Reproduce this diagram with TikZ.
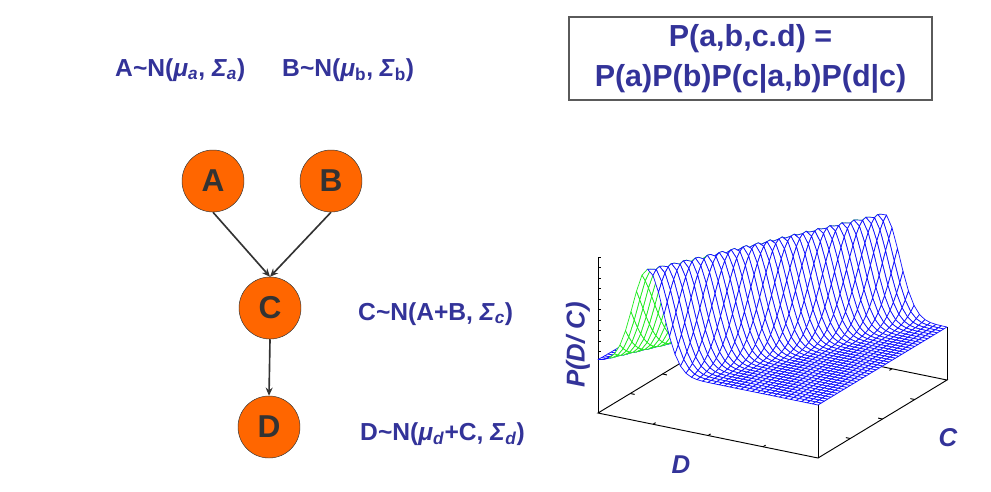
\documentclass[tikz,border=0pt]{standalone}
\usepackage{fontspec}
\setmainfont{Liberation Sans}
\usetikzlibrary{arrows.meta,calc}
\definecolor{nodeorange}{RGB}{255,102,0}
\definecolor{darktext}{RGB}{51,51,51}
\definecolor{eqblue}{RGB}{51,51,153}
\definecolor{boxgray}{RGB}{90,90,90}
\definecolor{meshblue}{RGB}{15,15,255}
\definecolor{meshgreen}{RGB}{30,235,30}
\pgfmathdeclarefunction{pdc}{2}{\pgfmathparse{#1-0.227-0.486*#2}\let\pdcd\pgfmathresult\pgfmathparse{exp(max(-11,-(\pdcd)*(\pdcd)/0.0098))}}
\tikzset{
  varnode/.style={circle, draw=darktext, fill=nodeorange, minimum size=1.86cm, inner sep=0pt,
    text=darktext, font=\fontsize{27}{30}\selectfont\bfseries},
  edge/.style={draw=darktext, line width=1.4pt, -{Stealth[length=7pt,width=6pt]}},
  dist/.style={anchor=base west, inner sep=0pt, text=eqblue, font=\fontsize{21}{25}\selectfont\bfseries},
  jointbox/.style={draw=boxgray, line width=1.1pt, minimum width=10.89cm, minimum height=2.49cm,
    inner sep=0pt, align=center, text=eqblue, font=\fontsize{26}{34}\selectfont\bfseries},
  axisline/.style={black, line width=0.8pt},
  axislabel/.style={inner sep=0pt, text=eqblue, font=\fontsize{22}{26}\selectfont\bfseries\itshape},
  mesh/.style={line width=0.6pt, fill=white, line join=round}
}
\begin{document}
\begin{tikzpicture}[x=0.03cm, y=-0.03cm]
\useasboundingbox (0,0) rectangle (991,491);
% network
\node[varnode] (A) at (213,181) {A};
\node[varnode] (B) at (331,181) {B};
\node[varnode] (C) at (270,308) {C};
\node[varnode] (D) at (269,427) {D};
\draw[edge] (A.south) -- (C.north);
\draw[edge] (B.south) -- (C.north);
\draw[edge] (C.south) -- (D.north);
% distributions
\node[dist] (distA) at (115,76) {A\textasciitilde N(\textit{μ}\textsubscript{\textit{a}}, \textit{Σ}\textsubscript{\textit{a}})};
\node[dist] (distB) at (282,76) {B\textasciitilde N(\textit{μ}\textsubscript{b}, \textit{Σ}\textsubscript{b})};
\node[dist] (distC) at (358,320) {C\textasciitilde N(A+B, \textit{Σ}\textsubscript{\textit{c}})};
\node[dist] (distD) at (360,440) {D\textasciitilde N(\textit{μ}\textsubscript{\textit{d}}+C, \textit{Σ}\textsubscript{\textit{d}})};
\node[jointbox] (joint) at (750.5,58.5) {P(a,b,c.d) =\\P(a)P(b)P(c|a,b)P(d|c)};
% plot frame
\coordinate (O) at (598,413);
\coordinate (FU) at (818,458);
\coordinate (FR) at (947,380);
\coordinate (BV) at (727,335);
\coordinate (ztop) at (598,257);
\draw[axisline] (BV) -- (O) -- (FU) -- (FR) -- cycle;
\draw[axisline] (O) -- (ztop);
\draw[axisline] (FU) -- (818,405);
\draw[axisline] (FR) -- (947,327);
\foreach \k in {0,...,9} \draw[axisline] (598,{257+10.5*\k}) -- ++(3,0);
\foreach \f in {0.25,0.5,0.75}{
  \draw[axisline] ($(O)!\f!(FU)$) -- ++(2.6,-1.6);
  \draw[axisline] ($(FU)!\f!(FR)$) -- ++(-4.4,-0.9);
  \draw[axisline] ($(O)!\f!(BV)$) -- ++(4.4,0.9);
  \draw[axisline] ($(BV)!\f!(FR)$) -- ++(-2.6,1.6);
}
% surface, back to front
\foreach \i in {0,...,39}{
  \foreach \j in {39,...,0}{
    \pgfmathsetmacro\zaa{101*pdc(\i/40,\j/40)}
    \pgfmathsetmacro\zba{101*pdc((\i+1)/40,\j/40)}
    \pgfmathsetmacro\zab{101*pdc(\i/40,(\j+1)/40)}
    \pgfmathsetmacro\zbb{101*pdc((\i+1)/40,(\j+1)/40)}
    \pgfmathsetmacro\cross{8.725*(-3.075-(\zab-\zba))-2.275*(0.825+(\zbb-\zaa))}
    \ifdim\cross pt>0pt \def\mcol{meshgreen}\else\def\mcol{meshblue}\fi
    \filldraw[mesh, draw=\mcol]
      ({598+5.5*\i+3.225*\j},{360+1.125*\i-1.95*\j-\zaa}) --
      ({598+5.5*(\i+1)+3.225*\j},{360+1.125*(\i+1)-1.95*\j-\zba}) --
      ({598+5.5*(\i+1)+3.225*(\j+1)},{360+1.125*(\i+1)-1.95*(\j+1)-\zbb}) --
      ({598+5.5*\i+3.225*(\j+1)},{360+1.125*\i-1.95*(\j+1)-\zab}) -- cycle;
  }
}
% axis labels
\node[axislabel, rotate=90] (zlabel) at (578,345) {P(D/ C)};
\node[axislabel] (dlabel) at (681,465) {D};
\node[axislabel] (clabel) at (948,438) {C};
\end{tikzpicture}
\end{document}
